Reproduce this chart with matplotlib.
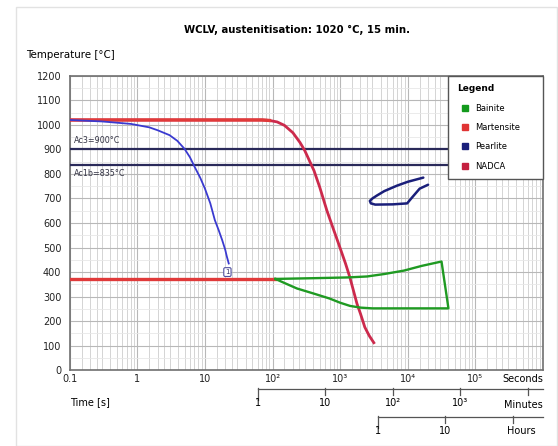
import matplotlib.pyplot as plt
import matplotlib.patches as patches
from matplotlib.lines import Line2D
from matplotlib.ticker import LogLocator, NullFormatter, MultipleLocator

plt.rcParams['font.family'] = ['DejaVu Sans']

# curves (time in s, temperature in °C)
nadca_t = [0.1, 70, 90, 117, 150, 200, 255, 300, 411, 500, 638, 800, 993, 1200, 1395, 1770, 2000, 2320, 2700, 3150]
nadca_T = [1020, 1020, 1018, 1012, 998, 968, 928, 895, 813, 745, 650, 573, 500, 435, 378, 272, 230, 175, 140, 112]

cool_t = [0.1, 0.3, 0.8, 1.5, 2.0, 3.0, 3.9, 5.0, 6.0, 7.0, 8.5, 10, 12, 14, 16, 18, 20, 21, 22.5]
cool_T = [1020, 1014, 1004, 990, 978, 958, 935, 902, 868, 830, 785, 740, 680, 612, 570, 530, 490, 465, 435]

ms_t = [0.1, 110]
ms_T = [372, 372]

bainite_t = [110, 400, 1260, 2500, 4500, 8800, 16000, 31600, 40000,
             3000, 2000, 1400, 1000, 700, 410, 230, 160, 110]
bainite_T = [372, 375, 378, 382, 392, 406, 425, 443, 252,
             252, 255, 262, 275, 292, 312, 333, 352, 372]

pearlite_t = [17000, 10000, 6900, 4500, 3500, 3000, 2750, 2850, 3300, 6000, 9800, 11500, 15000, 20000]
pearlite_T = [785, 768, 752, 730, 712, 700, 690, 680, 675, 676, 680, 703, 740, 756]

ac3 = 900
ac1b = 835

sec_ticks = [0.1, 1, 10, 100, 1000, 10000, 100000]
sec_labels = ['0.1', '1', '10', '10²', '10³', '10⁴', '10⁵']
min_ticks = [1, 10, 100, 1000, 10000]
min_labels = ['1', '10', '10²', '10³', '']
hour_ticks = [1, 10, 100]
hour_labels = ['1', '10', '']

legend_names = ['Bainite', 'Martensite', 'Pearlite', 'NADCA']
legend_colors = ['#139a1c', '#e03434', '#1a1f7a', '#c4203f']

fig = plt.figure(figsize=(5.58, 4.46), dpi=100)
fig.patches.append(patches.Rectangle((0.029, 0.0), 0.97, 0.984, transform=fig.transFigure,
                                     fill=False, edgecolor='#e2e2e2', lw=1))
ax = fig.add_axes([0.125, 0.170, 0.848, 0.660])
ax.set_xscale('log')
ax.set_xlim(0.1, 1e6)
ax.set_ylim(0, 1200)

# grid
ax.xaxis.set_minor_locator(LogLocator(base=10, subs=[1.5, 2, 2.5, 3, 4, 5, 6, 7, 8, 9], numticks=20))
ax.xaxis.set_minor_formatter(NullFormatter())
ax.yaxis.set_major_locator(MultipleLocator(100))
ax.yaxis.set_minor_locator(MultipleLocator(50))
ax.grid(True, which='major', axis='both', color='#b8b8b8', lw=0.8)
ax.grid(True, which='minor', axis='x', color='#d4d4d4', lw=0.7)
ax.grid(True, which='minor', axis='y', color='#e8e8e8', lw=0.6)
ax.set_axisbelow(True)
for s in ax.spines.values():
    s.set_color('#707070')
    s.set_linewidth(1.2)

ax.set_xticks(sec_ticks)
ax.set_xticklabels(sec_labels)
ax.tick_params(which='both', length=0, labelsize=7, pad=3, labelcolor='#222222')
ax.tick_params(axis='y', pad=6)

# lines
ax.axhline(ac3, color='#2a2a5a', lw=1.6, zorder=3)
ax.axhline(ac1b, color='#2a2a5a', lw=1.6, zorder=3)
ax.text(0.115, 935, 'Ac3=900°C', fontsize=5.8, color='#333344', va='center')
ax.text(0.115, 800, 'Ac1b=835°C', fontsize=5.8, color='#333344', va='center')

ax.plot(nadca_t, nadca_T, color='#cc2a4c', lw=2.0, zorder=4)
ax.plot(nadca_t[:3], nadca_T[:3], color='#e03a3a', lw=2.4, zorder=4)
ax.plot(cool_t, cool_T, color='#3a3ad0', lw=1.3, zorder=5)
ax.plot(ms_t, ms_T, color='#e03a3a', lw=2.4, zorder=4)
ax.plot(bainite_t, bainite_T, color='#1f9a22', lw=1.7, zorder=4)
ax.plot(pearlite_t, pearlite_T, color='#1a1f7a', lw=1.8, zorder=4, solid_capstyle='round')
ax.text(cool_t[-1] - 1.0, 400, '1', fontsize=5, ha='center', va='center', color='#333366', zorder=6,
        bbox=dict(boxstyle='round,pad=0.2', fc='white', ec='#5050a0', lw=0.8))

# legend
handles = [Line2D([], [], marker='s', ls='none', color=c, markersize=5) for c in legend_colors]
leg = ax.legend(handles, legend_names, title='Legend', loc='upper left',
                bbox_to_anchor=(0.80, 0.0, 0.20, 1.0), mode='expand', borderaxespad=0,
                fontsize=6, title_fontsize=6.5, fancybox=False, framealpha=1, edgecolor='#555555',
                labelspacing=1.25, handletextpad=0.2, borderpad=1.0, handlelength=2.0)
leg.get_title().set_fontweight('bold')
leg._legend_box.align = 'left'
leg.get_frame().set_linewidth(1.0)
leg.set_zorder(10)

# texts
fig.text(0.532, 0.926, 'WCLV, austenitisation: 1020 °C, 15 min.', fontsize=7.3, fontweight='bold', ha='center')
fig.text(0.047, 0.869, 'Temperature [°C]', fontsize=7.4)
ax.text(1.0, -0.03, 'Seconds', transform=ax.transAxes, fontsize=7, ha='right', va='center')
ax.text(0.0, -0.092, 'Time [s]', transform=ax.transAxes, fontsize=7, ha='left', va='top')

# extra time scales
tr = ax.get_xaxis_transform()
m_pos = [m * 60 for m in min_ticks]
ax.plot([m_pos[0], 1e6], [-0.065, -0.065], transform=tr, clip_on=False, color='#555555', lw=0.9)
for i, (p, lab) in enumerate(zip(m_pos, min_labels)):
    ax.plot([p, p], [-0.06, -0.1 if i == 0 else -0.085], transform=tr, clip_on=False, color='#555555', lw=0.9)
    ax.text(p, -0.095, lab, transform=tr, fontsize=7, ha='center', va='top')
ax.text(1.0, -0.1, 'Minutes', transform=ax.transAxes, fontsize=7, ha='right', va='top')

h_pos = [h * 3600 for h in hour_ticks]
ax.plot([h_pos[0], 1e6], [-0.16, -0.16], transform=tr, clip_on=False, color='#555555', lw=0.9)
for i, (p, lab) in enumerate(zip(h_pos, hour_labels)):
    ax.plot([p, p], [-0.155, -0.195 if i == 0 else -0.18], transform=tr, clip_on=False, color='#555555', lw=0.9)
    ax.text(p, -0.19, lab, transform=tr, fontsize=7, ha='center', va='top')
ax.text(0.985, -0.19, 'Hours', transform=ax.transAxes, fontsize=7, ha='right', va='top')

fig.savefig('out.png', dpi=100)
